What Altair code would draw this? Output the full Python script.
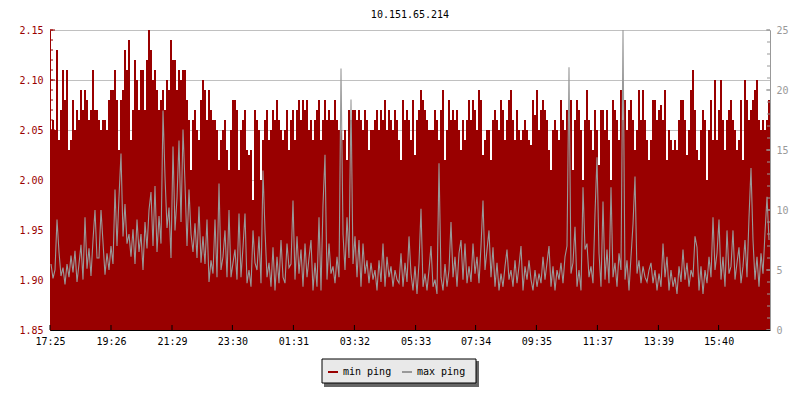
import altair as alt
import pandas as pd

TITLE = "10.151.65.214"
FONT = "DejaVu Sans Mono"
RED = "#990000"
GREY = "#999999"

x_tick_pos = [0, 30.5, 61, 91.2, 121.7, 152.2, 182.8, 212.8, 243.2, 273.7, 304.2, 334.3]
x_tick_labels = ["17:25", "19:26", "21:29", "23:30", "01:31", "03:32",
                 "05:33", "07:34", "09:35", "11:37", "13:39", "15:40"]
left_major = [1.85, 1.90, 1.95, 2.00, 2.05, 2.10, 2.15]
right_major = [0, 5, 10, 15, 20, 25]
series_names = ["min ping", "max ping"]
series_colors = [RED, GREY]

# min ping (left axis), one value per 4 minutes
min_ping = [
    2.05, 2.06, 2.05, 2.13, 2.04, 2.07, 2.11, 2.08, 2.11, 2.03,
    2.04, 2.08, 2.05, 2.07, 2.06, 2.09, 2.07, 2.09, 2.08, 2.06,
    2.07, 2.11, 2.07, 2.07, 2.06, 2.05, 2.06, 2.06, 2.05, 2.08,
    2.09, 2.09, 2.11, 2.08, 2.03, 2.08, 2.09, 2.13, 2.11, 2.14,
    2.04, 2.07, 2.12, 2.10, 2.07, 2.11, 2.11, 2.07, 2.12, 2.15,
    2.13, 2.10, 2.11, 2.09, 2.07, 2.08, 2.09, 2.07, 2.10, 2.09,
    # strip 2
    2.14, 2.12, 2.12, 2.09, 2.11, 2.10, 2.11, 2.11, 2.08, 2.06,
    2.01, 2.06, 2.07, 2.05, 2.04, 2.08, 2.10, 2.09, 2.06, 2.09,
    2.07, 2.06, 2.06, 2.05, 2.02, 2.04, 2.05, 2.06, 2.03, 2.01,
    2.05, 2.08, 2.08, 2.07, 2.01, 2.05, 2.06, 2.07, 2.03, 2.025,
    2.03, 1.98, 2.07, 2.06, 2.05, 2.00, 2.04, 2.06, 2.07, 2.04,
    2.05, 2.07, 2.06, 2.08, 2.06, 2.05, 2.04, 2.05, 2.07, 2.03,
    # strip 3
    2.06, 2.07, 2.04, 2.07, 2.08, 2.06, 2.08, 2.07, 2.08, 2.05,
    2.06, 2.04, 2.06, 2.07, 2.08, 2.04, 2.06, 2.08, 2.06, 2.07,
    2.06, 2.06, 2.08, 2.06, 2.05, 2.05, 2.04, 2.05, 2.02, 2.07,
    2.06, 2.07, 2.07, 2.06, 2.07, 2.06, 2.05, 2.07, 2.06, 2.03,
    2.05, 2.05, 2.06, 2.07, 2.05, 2.07, 2.06, 2.08, 2.05, 2.07,
    2.06, 2.05, 2.07, 2.06, 2.04, 2.02, 2.08, 2.06, 2.07, 2.06,
    # strip 4
    2.04, 2.08, 2.025, 2.06, 2.07, 2.09, 2.08, 2.07, 2.06, 2.05,
    2.05, 2.05, 2.07, 2.06, 2.04, 2.07, 2.09, 2.02, 2.05, 2.08,
    2.06, 2.07, 2.06, 2.07, 2.05, 2.03, 2.06, 2.04, 2.06, 2.08,
    2.06, 2.08, 2.07, 2.05, 2.09, 2.08, 2.025, 2.04, 2.05, 2.05,
    2.02, 2.06, 2.07, 2.06, 2.05, 2.08, 2.07, 2.04, 2.06, 2.08,
    2.09, 2.06, 2.04, 2.07, 2.05, 2.04, 2.05, 2.06, 2.05, 2.04,
    # strip 5
    2.035, 2.08, 2.065, 2.09, 2.05, 2.07, 2.08, 2.07, 2.06, 2.03,
    2.01, 2.05, 2.06, 2.05, 2.04, 2.08, 2.06, 2.05, 2.07, 2.07,
    2.08, 2.01, 2.06, 2.08, 2.07, 2.05, 2.00, 2.06, 2.09, 2.06,
    2.05, 2.03, 2.07, 2.05, 2.015, 2.07, 2.07, 2.05, 2.07, 2.04,
    2.00, 2.08, 2.07, 2.06, 2.04, 2.09, 2.06, 2.08, 2.05, 2.07,
    2.08, 2.06, 2.03, 2.05, 2.09, 2.06, 2.09, 2.06, 2.04, 2.02,
    # strip 6
    2.04, 2.08, 2.08, 2.06, 2.07, 2.075, 2.06, 2.09, 2.02, 2.05,
    2.04, 2.03, 2.04, 2.03, 2.06, 2.08, 2.08, 2.06, 2.025, 2.05,
    2.09, 2.11, 2.07, 2.03, 2.02, 2.05, 2.07, 2.06, 2.00, 2.05,
    2.08, 2.04, 2.10, 2.04, 2.07, 2.10, 2.06, 2.03, 2.06, 2.07,
    2.08, 2.06, 2.05, 2.03, 2.04, 2.08, 2.02, 2.10, 2.08, 2.06,
    2.07, 2.08, 2.09, 2.10, 2.06, 2.05, 2.06, 2.05, 2.06, 2.08,
]

# max ping (right axis)
max_ping = [
    5.5, 4.3, 5.0, 9.2, 6.5, 4.5, 5.2, 3.8, 5.5, 4.4,
    6.2, 4.8, 6.6, 4.0, 5.5, 7.1, 4.2, 9.4, 5.1, 6.8,
    4.5, 7.5, 10.0, 6.0, 6.0, 10.0, 7.3, 4.6, 6.4, 5.0,
    7.0, 5.5, 11.7, 7.0, 11.1, 14.7, 7.8, 10.5, 7.2, 8.0,
    6.1, 8.4, 5.5, 9.2, 6.5, 8.0, 5.0, 9.0, 6.8, 10.0,
    11.5, 7.0, 12.0, 6.5, 9.5, 7.2, 18.3, 12.8, 8.5, 10.2,
    # strip 2
    6.0, 15.3, 8.3, 11.0, 15.8, 9.0, 16.7, 12.2, 7.0, 11.7,
    8.0, 6.5, 8.9, 6.0, 10.3, 5.6, 7.8, 5.5, 9.2, 4.0,
    5.8, 4.7, 9.2, 4.4, 12.2, 5.0, 6.1, 8.3, 4.4, 10.0,
    4.4, 5.6, 6.7, 4.2, 9.7, 4.4, 6.9, 9.7, 3.9, 5.0,
    3.6, 8.3, 5.6, 5.0, 7.8, 3.9, 13.3, 8.3, 4.4, 5.6,
    3.6, 6.9, 3.3, 6.1, 3.9, 7.5, 4.4, 3.9, 7.2, 5.2,
    # strip 3
    5.5, 10.8, 4.2, 7.8, 4.7, 6.7, 3.6, 7.2, 4.4, 6.0,
    7.5, 3.3, 5.6, 3.6, 9.4, 3.3, 10.4, 14.6, 4.2, 7.2,
    4.7, 5.3, 3.9, 6.1, 4.4, 21.8, 8.0, 5.0, 9.4, 6.0,
    19.2, 5.5, 7.8, 4.4, 7.5, 3.6, 7.2, 4.7, 5.8, 3.9,
    5.6, 4.2, 5.0, 3.3, 5.8, 4.0, 7.2, 3.6, 6.1, 4.4,
    5.3, 3.6, 5.0, 4.2, 3.9, 6.4, 3.6, 5.6, 4.0, 7.8,
    # strip 4
    4.7, 3.3, 5.3, 3.0, 5.6, 10.1, 3.6, 4.7, 3.3, 5.0,
    7.0, 3.6, 4.2, 3.0, 13.9, 4.4, 3.3, 5.5, 3.6, 5.0,
    9.0, 4.4, 6.1, 3.6, 6.4, 7.5, 4.2, 7.2, 3.9, 5.3,
    4.0, 7.2, 4.7, 6.1, 3.9, 7.0, 10.8, 5.0, 6.7, 8.3,
    4.4, 6.9, 3.6, 5.6, 3.3, 4.7, 3.6, 5.3, 6.7, 4.2,
    5.0, 3.6, 5.8, 3.9, 5.3, 7.0, 3.3, 5.3, 4.2, 5.8,
    # strip 5
    4.2, 3.3, 5.0, 3.6, 4.7, 3.9, 6.1, 4.2, 5.6, 7.0,
    3.6, 5.3, 3.3, 5.0, 4.2, 5.6, 3.9, 6.1, 7.0, 21.9,
    4.7, 5.6, 8.6, 3.6, 5.0, 3.3, 11.9, 6.7, 7.2, 4.4,
    5.3, 3.9, 9.7, 14.4, 6.4, 3.6, 10.7, 4.2, 6.7, 3.9,
    11.9, 4.4, 5.6, 3.6, 6.4, 5.0, 25.0, 4.2, 5.8, 3.3,
    6.1, 8.8, 12.8, 4.7, 5.8, 3.9, 5.3, 4.4, 4.0, 5.0,
    # strip 6
    5.6, 3.9, 5.0, 3.3, 4.7, 3.6, 7.2, 4.4, 6.1, 3.3,
    5.0, 3.6, 4.4, 3.0, 5.3, 4.0, 6.7, 4.2, 5.6, 3.6,
    5.0, 4.4, 7.8, 6.9, 3.3, 5.3, 3.0, 5.0, 3.9, 6.1,
    4.4, 9.4, 5.0, 6.4, 9.2, 4.2, 6.1, 3.6, 8.3, 4.7,
    5.3, 8.3, 4.2, 5.6, 6.9, 3.9, 5.3, 7.5, 4.4, 9.4,
    13.5, 7.5, 4.2, 6.1, 3.6, 6.4, 4.7, 8.1, 11.1, 7.5,
]

n = len(min_ping)
df = pd.DataFrame({"i": list(range(n)), "min": min_ping, "max": max_ping})

label_expr = " : ".join(
    f"abs(datum.value - {p}) < 1 ? '{l}'" for p, l in zip(x_tick_pos, x_tick_labels)
) + " : ''"

x_scale = alt.Scale(domain=[0, n], nice=False, zero=False)
yl_scale = alt.Scale(domain=[1.85, 2.15], nice=False, zero=False)
yr_scale = alt.Scale(domain=[0, 25], nice=False, zero=False)

x_axis = alt.Axis(values=x_tick_pos, labelExpr=label_expr, ticks=False, grid=False,
                  domainColor="black", labelFont=FONT, labelFontSize=10,
                  labelColor="black", labelPadding=6, title=None, zindex=1,
                  labelFlush=False, labelOverlap=False)
yl_axis = alt.Axis(values=left_major, format=".2f", ticks=False, grid=True,
                   gridColor="#c0c0c0", gridWidth=1, domainColor=RED,
                   labelColor=RED, labelFont=FONT, labelFontSize=10,
                   labelPadding=7, title=None)
yr_axis = alt.Axis(orient="right", values=right_major, ticks=False, grid=False,
                   domainColor=GREY, labelColor=GREY, labelFont=FONT,
                   labelFontSize=10, labelPadding=6, title=None, zindex=1)

area = alt.Chart(df).mark_rect(color=RED).transform_calculate(
    i2="datum.i + 1"
).encode(
    x=alt.X("i:Q", scale=x_scale, axis=x_axis),
    x2="i2:Q",
    y=alt.Y("min:Q", scale=yl_scale, axis=yl_axis),
    y2=alt.datum(1.85),
)

left_minor = [round(1.85 + 0.01 * k, 2) for k in range(31)]
lt_minor = alt.Chart(pd.DataFrame({"v": left_minor})).mark_rule(color=RED).encode(
    y=alt.Y("v:Q", scale=yl_scale, axis=yl_axis), x=alt.value(0), x2=alt.value(3))
lt_major = alt.Chart(pd.DataFrame({"v": left_major})).mark_rule(color=RED).encode(
    y=alt.Y("v:Q", scale=yl_scale, axis=yl_axis), x=alt.value(0), x2=alt.value(5))
x_ticks = alt.Chart(pd.DataFrame({"v": x_tick_pos})).mark_rule(color="black").encode(
    x=alt.X("v:Q", scale=x_scale, axis=x_axis), y=alt.value(295), y2=alt.value(300))

one = pd.DataFrame({"a": [0]})
shadow = alt.Chart(one).mark_rect(color="#666666").encode(
    x=alt.value(274), x2=alt.value(429), y=alt.value(331), y2=alt.value(357))
box = alt.Chart(one).mark_rect(fill="#e9e9e9", stroke="black", strokeWidth=1).encode(
    x=alt.value(272), x2=alt.value(426), y=alt.value(329), y2=alt.value(353))

line = alt.Chart(df).mark_line(strokeWidth=1.1).transform_calculate(
    series="'max ping'", xc="datum.i + 0.5"
).encode(
    x=alt.X("xc:Q", scale=x_scale, axis=x_axis),
    y=alt.Y("max:Q", scale=yr_scale, axis=yr_axis),
    color=alt.Color("series:N",
                    scale=alt.Scale(domain=series_names, range=series_colors),
                    legend=alt.Legend(orient="none", legendX=277, legendY=336,
                                      direction="horizontal", title=None,
                                      symbolType="stroke", symbolStrokeWidth=2,
                                      symbolSize=100, labelFont=FONT,
                                      labelFontSize=10, labelColor="#000000",
                                      columnPadding=6, labelOffset=4, padding=0)),
)

right_minor = list(range(26))
rt_minor = alt.Chart(pd.DataFrame({"v": right_minor})).mark_rule(color=GREY).encode(
    y=alt.Y("v:Q", scale=yr_scale, axis=yr_axis), x=alt.value(717), x2=alt.value(720))
rt_major = alt.Chart(pd.DataFrame({"v": right_major})).mark_rule(color=GREY).encode(
    y=alt.Y("v:Q", scale=yr_scale, axis=yr_axis), x=alt.value(716), x2=alt.value(720))

left = alt.layer(shadow, box, area, lt_minor, lt_major, x_ticks)
right = alt.layer(line, rt_minor, rt_major)

chart = alt.layer(left, right).resolve_scale(y="independent").properties(
    width=720, height=300,
    title=alt.Title(TITLE, font=FONT, fontSize=10, fontWeight="normal",
                    anchor="middle", offset=5, color="black"),
    autosize=alt.AutoSizeParams(type="none"),
    padding={"left": 42, "top": 22, "right": 22, "bottom": 62},
).configure_view(stroke=None).configure(background="white")

chart.save("out.html", embed_options={"renderer": "svg", "actions": False})
